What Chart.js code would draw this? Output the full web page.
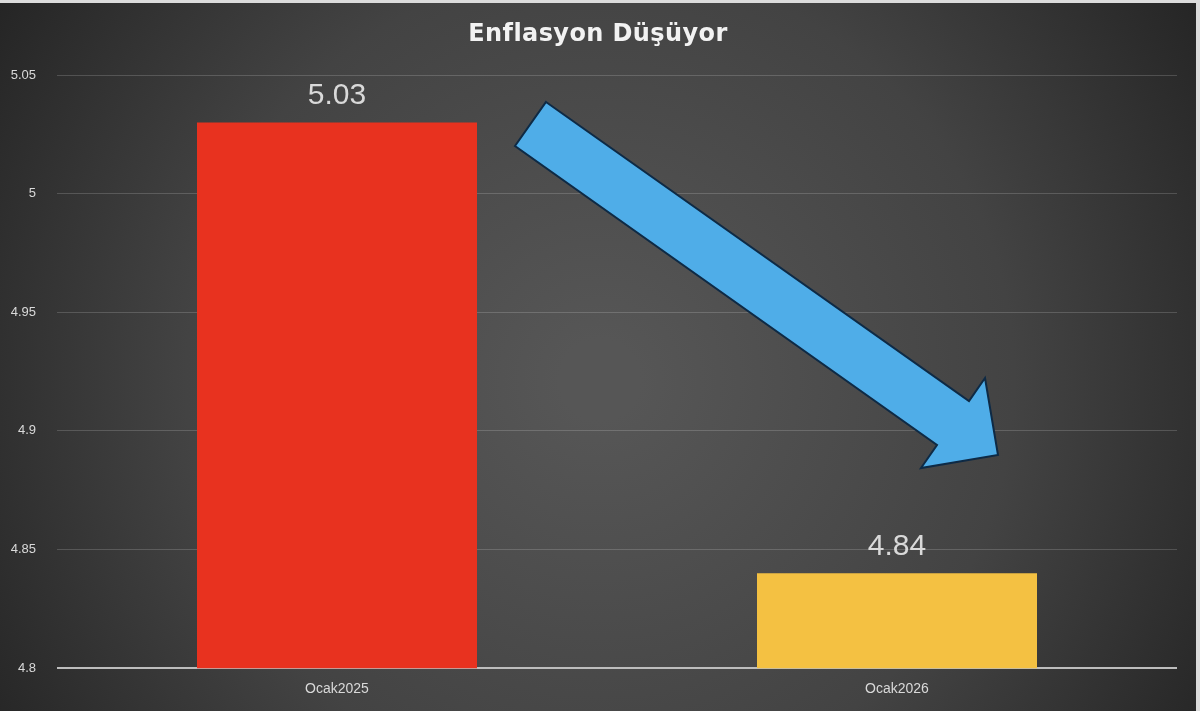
<!DOCTYPE html>
<html>
<head>
<meta charset="utf-8">
<title>Enflasyon Düşüyor</title>
<script src="https://cdn.jsdelivr.net/npm/chart.js@4/dist/chart.umd.min.js"></script>
<style>
    html, body { margin: 0; padding: 0; background: #dcdcdc; }
    #wrap { position: relative; width: 1200px; height: 711px; }
</style>
</head>
<body>
<div id="wrap"><canvas id="chart"></canvas></div>
<script>
const chartTitle = 'Enflasyon Düşüyor';
const categories = ['Ocak2025', 'Ocak2026'];
const values = [5.03, 4.84];
const barColors = ['#E8321F', '#F4C142'];
const yTickValues = [4.8, 4.85, 4.9, 4.95, 5, 5.05];

const fmt = v => String(Number(v.toFixed(2)));

// dark radial backdrop with thin light frame on top/right, plus the title
const backdrop = {
    id: 'backdrop',
    beforeDraw(chart) {
        const { ctx, width, height } = chart;
        ctx.save();
        ctx.fillStyle = '#dcdcdc';
        ctx.fillRect(0, 0, width, height);
        const g = ctx.createRadialGradient(600, 380, 40, 600, 380, 720);
        g.addColorStop(0, '#565656');
        g.addColorStop(0.55, '#434343');
        g.addColorStop(1, '#242424');
        ctx.fillStyle = g;
        ctx.fillRect(0, 3, width - 4, height - 3);

        // title, slightly letter-spaced like the original
        ctx.letterSpacing = '0.4px';
        ctx.fillStyle = '#f2f2f2';
        ctx.font = 'bold 24px "DejaVu Sans", sans-serif';
        ctx.textAlign = 'center';
        ctx.textBaseline = 'middle';
        ctx.fillText(chartTitle, 598, 35);
        ctx.restore();
    }
};

// value labels above each bar
const valueLabels = {
    id: 'valueLabels',
    afterDatasetsDraw(chart) {
        const { ctx } = chart;
        const meta = chart.getDatasetMeta(0);
        ctx.save();
        ctx.fillStyle = '#d9d9d9';
        ctx.font = '30px "Liberation Sans", Arial, sans-serif';
        ctx.textAlign = 'center';
        ctx.textBaseline = 'alphabetic';
        meta.data.forEach((bar, i) => {
            ctx.fillText(fmt(values[i]), bar.x, bar.y - 18);
        });
        ctx.restore();
    }
};

// the blue "going down" arrow shape
const downArrow = {
    id: 'downArrow',
    afterDatasetsDraw(chart) {
        const { ctx } = chart;
        const pts = [[546, 102], [969, 401], [985, 378], [998, 455], [921, 468], [937, 445], [515, 146]];
        ctx.save();
        ctx.beginPath();
        pts.forEach(([x, y], i) => i ? ctx.lineTo(x, y) : ctx.moveTo(x, y));
        ctx.closePath();
        ctx.fillStyle = '#4FADE8';
        ctx.fill();
        ctx.lineWidth = 2;
        ctx.lineJoin = 'miter';
        ctx.strokeStyle = '#0E2A45';
        ctx.stroke();
        ctx.restore();
    }
};

new Chart(document.getElementById('chart'), {
    type: 'bar',
    data: {
        labels: categories,
        datasets: [{
            data: values,
            backgroundColor: barColors,
            borderWidth: 0,
            categoryPercentage: 1,
            barPercentage: 0.5
        }]
    },
    options: {
        responsive: true,
        maintainAspectRatio: false,
        animation: false,
        layout: { padding: { left: 0, right: 23, top: 75, bottom: 0 } },
        plugins: {
            legend: { display: false },
            tooltip: { enabled: false },
            title: { display: false }
        },
        scales: {
            x: {
                grid: { display: false, drawTicks: false },
                border: { display: false },
                ticks: {
                    color: '#d9d9d9',
                    font: { family: '"Liberation Sans", Arial, sans-serif', size: 14 },
                    padding: 13
                }
            },
            y: {
                min: 4.8,
                max: 5.05,
                afterBuildTicks: axis => { axis.ticks = yTickValues.map(v => ({ value: v })); },
                afterFit: axis => { axis.width = 57; },
                border: { display: false },
                grid: {
                    drawTicks: false,
                    color: c => c.tick && Math.abs(c.tick.value - 4.8) < 1e-6 ? '#bdbdbd' : 'rgba(255,255,255,0.17)',
                    lineWidth: c => c.tick && Math.abs(c.tick.value - 4.8) < 1e-6 ? 2 : 1
                },
                ticks: {
                    color: '#d9d9d9',
                    font: { family: '"Liberation Sans", Arial, sans-serif', size: 13 },
                    padding: 21,
                    callback: v => fmt(v)
                }
            }
        }
    },
    plugins: [backdrop, valueLabels, downArrow]
});
</script>
</body>
</html>
